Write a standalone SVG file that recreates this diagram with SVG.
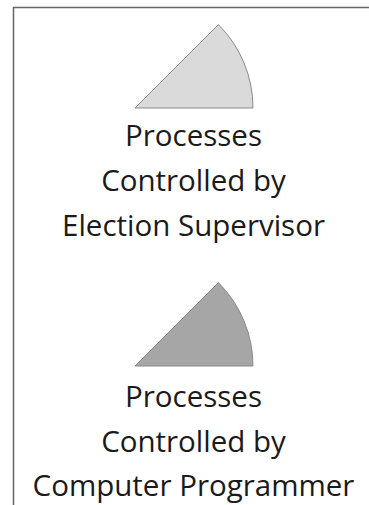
<svg xmlns="http://www.w3.org/2000/svg" width="369" height="505" viewBox="0 0 369 505">
<style>
.frame{fill:none;stroke:#666;stroke-width:1.5}
.sector{stroke:#8a8a8a;stroke-width:1}
.lbl{font-family:"Open Sans","Noto Sans",sans-serif;font-size:29.5px;fill:#1a1a1a;text-anchor:middle}
</style>
<rect width="369" height="505" fill="#fff"/>
<g id="connectors">
<path class="frame" d="M13.5,505 V7.5 H369"/>
</g>
<g id="supervisor">
<path class="sector" fill="#dadada" d="M135,108 L253,108 A118,118 0 0,0 218.4,24.6 Z"/>
<text class="lbl" x="193.5" y="146">Processes</text>
<text class="lbl" x="193.5" y="191">Controlled by</text>
<text class="lbl" x="193.5" y="236">Election Supervisor</text>
</g>
<g id="programmer">
<path class="sector" fill="#a6a6a6" d="M135,366 L253,366 A118,118 0 0,0 218.4,282.6 Z"/>
<text class="lbl" x="193.5" y="407">Processes</text>
<text class="lbl" x="193.5" y="452">Controlled by</text>
<text class="lbl" x="193.5" y="496">Computer Programmer</text>
</g>
</svg>
